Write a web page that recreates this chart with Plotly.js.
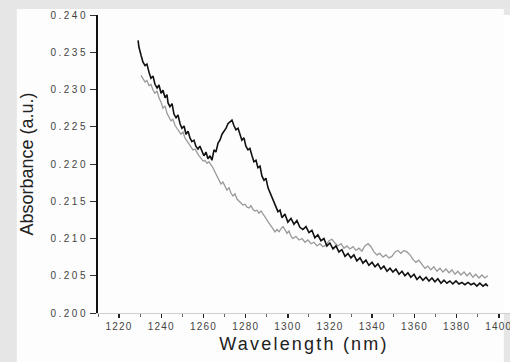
<!DOCTYPE html>
<html>
<head>
<meta charset="utf-8">
<script src="https://cdn.plot.ly/plotly-3.0.1.min.js"></script>
<style>
  html, body { margin: 0; padding: 0; background: #e6e6e6; }
  #chart { width: 510px; height: 362px; }
  .ytick text { letter-spacing: 2.5px; }
  .xtick text { letter-spacing: 1.2px; }
  .g-xtitle text { letter-spacing: 2.2px; }
</style>
</head>
<body>
<div id="chart"></div>
<script>
// Absorbance spectra, sample A (dark trace)
const wavelengthA = [
  1229.0, 1229.4, 1230.4, 1231.3, 1232.3, 1233.2, 1234.2, 1235.1, 1236.1, 1237.0,
  1238.0, 1238.9, 1239.9, 1240.8, 1241.8, 1242.7, 1243.2, 1244.1, 1245.1, 1246.0,
  1247.0, 1247.9, 1248.9, 1249.8, 1250.8, 1251.7, 1252.7, 1253.6, 1254.5, 1255.5,
  1256.4, 1257.4, 1258.3, 1259.3, 1260.2, 1261.2, 1262.1, 1263.1, 1264.0, 1265.0,
  1265.9, 1266.9, 1267.8, 1268.8, 1269.7, 1270.7, 1271.6, 1272.6, 1273.5, 1274.5,
  1275.4, 1276.4, 1277.3, 1278.2, 1279.2, 1280.1, 1281.1, 1282.0, 1283.0, 1283.9,
  1284.9, 1285.8, 1286.8, 1287.7, 1288.7, 1289.6, 1290.6, 1291.5, 1292.5, 1293.4,
  1294.4, 1295.3, 1296.3, 1297.2, 1298.6, 1300.0, 1301.5, 1302.9, 1304.3, 1305.7,
  1307.1, 1308.6, 1310.0, 1311.4, 1312.8, 1314.2, 1315.7, 1317.1, 1318.5, 1319.9,
  1321.4, 1322.8, 1324.2, 1325.6, 1327.1, 1328.5, 1329.9, 1331.3, 1332.7, 1334.2,
  1335.6, 1337.0, 1338.4, 1339.9, 1341.3, 1342.7, 1344.1, 1345.5, 1347.0, 1348.4,
  1349.8, 1351.2, 1352.7, 1354.1, 1355.5, 1356.9, 1358.3, 1359.8, 1361.2, 1362.6,
  1364.0, 1365.5, 1366.9, 1368.3, 1369.7, 1371.1, 1372.6, 1374.0, 1375.4, 1376.8,
  1378.2, 1379.7, 1381.1, 1382.5, 1383.9, 1385.4, 1386.8, 1388.2, 1389.6, 1391.0,
  1392.5, 1393.9, 1394.8
];
const absorbanceA = [
  0.2366, 0.2357, 0.2346, 0.2337, 0.2332, 0.2334, 0.2323, 0.2315, 0.2318, 0.2307,
  0.2302, 0.2306, 0.2295, 0.2299, 0.2289, 0.2293, 0.2282, 0.2277, 0.2281, 0.2267,
  0.2262, 0.2266, 0.2254, 0.2248, 0.2251, 0.2240, 0.2244, 0.2235, 0.2230, 0.2232,
  0.2224, 0.2220, 0.2224, 0.2216, 0.2211, 0.2216, 0.2207, 0.2211, 0.2205, 0.2219,
  0.2216, 0.2228, 0.2232, 0.2240, 0.2244, 0.2248, 0.2254, 0.2256, 0.2259, 0.2251,
  0.2246, 0.2248, 0.2238, 0.2232, 0.2235, 0.2224, 0.2219, 0.2221, 0.2211, 0.2203,
  0.2205, 0.2195, 0.2197, 0.2184, 0.2178, 0.2181, 0.2168, 0.2162, 0.2157, 0.2149,
  0.2144, 0.2136, 0.2138, 0.2128, 0.2133, 0.2122, 0.2127, 0.2119, 0.2124, 0.2115,
  0.2112, 0.2116, 0.2108, 0.2111, 0.2101, 0.2105, 0.2097, 0.2100, 0.2090, 0.2094,
  0.2086, 0.2090, 0.2082, 0.2085, 0.2076, 0.2080, 0.2074, 0.2078, 0.2070, 0.2074,
  0.2067, 0.2071, 0.2064, 0.2068, 0.2062, 0.2066, 0.2059, 0.2063, 0.2056, 0.2060,
  0.2055, 0.2059, 0.2052, 0.2056, 0.2050, 0.2054, 0.2048, 0.2052, 0.2045, 0.2049,
  0.2044, 0.2048, 0.2043, 0.2047, 0.2042, 0.2046, 0.2040, 0.2044, 0.2040, 0.2043,
  0.2039, 0.2043, 0.2039, 0.2041, 0.2038, 0.2041, 0.2038, 0.2040, 0.2036, 0.2040,
  0.2036, 0.2039, 0.2036
];

// Absorbance spectra, sample B (grey trace)
const wavelengthB = [
  1230.4, 1231.3, 1232.3, 1233.2, 1234.2, 1235.1, 1236.1, 1237.0, 1238.0, 1238.9,
  1239.9, 1240.8, 1241.8, 1242.7, 1243.6, 1244.6, 1245.5, 1246.5, 1247.4, 1248.4,
  1249.3, 1250.3, 1251.2, 1252.2, 1253.1, 1254.1, 1255.0, 1256.0, 1256.9, 1257.9,
  1258.8, 1259.8, 1260.7, 1261.7, 1262.6, 1263.6, 1264.5, 1265.5, 1266.4, 1267.3,
  1268.3, 1269.2, 1270.2, 1271.1, 1272.1, 1273.0, 1274.0, 1274.9, 1275.9, 1276.8,
  1277.8, 1278.7, 1279.7, 1280.6, 1281.6, 1282.5, 1283.5, 1284.4, 1285.4, 1286.3,
  1287.3, 1288.2, 1289.1, 1290.1, 1291.0, 1292.0, 1292.9, 1293.9, 1294.8, 1295.8,
  1296.7, 1297.7, 1298.6, 1299.6, 1300.5, 1301.5, 1302.4, 1303.8, 1305.3, 1306.7,
  1308.1, 1309.5, 1311.0, 1312.4, 1313.8, 1315.2, 1316.6, 1318.1, 1319.5, 1320.9,
  1322.3, 1323.7, 1325.2, 1326.6, 1328.0, 1329.4, 1330.9, 1332.3, 1333.7, 1335.1,
  1336.5, 1338.0, 1339.4, 1340.8, 1342.2, 1343.6, 1345.1, 1346.5, 1347.9, 1349.3,
  1350.8, 1352.2, 1353.6, 1355.0, 1356.4, 1357.9, 1359.3, 1360.7, 1362.1, 1363.6,
  1365.0, 1366.4, 1367.8, 1369.2, 1370.7, 1372.1, 1373.5, 1374.9, 1376.4, 1377.8,
  1379.2, 1380.6, 1382.0, 1383.5, 1384.9, 1386.3, 1387.7, 1389.1, 1390.6, 1392.0,
  1393.4, 1394.8
];
const absorbanceB = [
  0.2319, 0.2314, 0.2310, 0.2312, 0.2305, 0.2307, 0.2299, 0.2295, 0.2298, 0.2289,
  0.2283, 0.2275, 0.2278, 0.2268, 0.2263, 0.2258, 0.2260, 0.2252, 0.2248, 0.2244,
  0.2240, 0.2243, 0.2235, 0.2231, 0.2227, 0.2223, 0.2219, 0.2220, 0.2215, 0.2211,
  0.2208, 0.2204, 0.2205, 0.2201, 0.2203, 0.2199, 0.2195, 0.2189, 0.2184, 0.2178,
  0.2173, 0.2176, 0.2169, 0.2165, 0.2168, 0.2161, 0.2157, 0.2160, 0.2153, 0.2150,
  0.2148, 0.2145, 0.2146, 0.2142, 0.2141, 0.2144, 0.2139, 0.2137, 0.2138, 0.2134,
  0.2137, 0.2133, 0.2128, 0.2124, 0.2121, 0.2117, 0.2113, 0.2109, 0.2112, 0.2109,
  0.2113, 0.2116, 0.2112, 0.2107, 0.2110, 0.2103, 0.2100, 0.2103, 0.2098, 0.2100,
  0.2095, 0.2098, 0.2093, 0.2095, 0.2090, 0.2093, 0.2089, 0.2091, 0.2097, 0.2099,
  0.2094, 0.2090, 0.2093, 0.2087, 0.2090, 0.2086, 0.2089, 0.2084, 0.2087, 0.2083,
  0.2090, 0.2093, 0.2089, 0.2082, 0.2078, 0.2080, 0.2075, 0.2078, 0.2074, 0.2076,
  0.2082, 0.2084, 0.2080, 0.2084, 0.2082, 0.2078, 0.2072, 0.2068, 0.2071, 0.2066,
  0.2060, 0.2063, 0.2058, 0.2062, 0.2056, 0.2060, 0.2055, 0.2059, 0.2054, 0.2058,
  0.2052, 0.2056, 0.2051, 0.2055, 0.2050, 0.2054, 0.2048, 0.2052, 0.2047, 0.2051,
  0.2047, 0.2050
];

const xTickValues = [1220, 1240, 1260, 1280, 1300, 1320, 1340, 1360, 1380, 1400];
const yTickValues = [0.200, 0.205, 0.210, 0.215, 0.220, 0.225, 0.230, 0.235, 0.240];
const xTitle = 'Wavelength (nm)';
const yTitle = 'Absorbance (a.u.)';

const FONT = '"Liberation Sans", Arial, sans-serif';

const traces = [
  {
    x: wavelengthB, y: absorbanceB, type: 'scatter', mode: 'lines',
    line: { color: '#9a9a9a', width: 1.3 }, hoverinfo: 'skip'
  },
  {
    x: wavelengthA, y: absorbanceA, type: 'scatter', mode: 'lines',
    line: { color: '#111111', width: 1.6 }, hoverinfo: 'skip'
  }
];

const layout = {
  width: 510, height: 362,
  margin: { l: 98, r: 0, t: 15, b: 49 },
  paper_bgcolor: '#e6e6e6',
  plot_bgcolor: '#ffffff',
  showlegend: false,
  font: { family: FONT, color: '#333' },
  // white sheet behind the figure
  shapes: [{
    type: 'rect', xref: 'paper', yref: 'paper', layer: 'below',
    x0: -0.197, x1: 0.985, y0: -0.17, y1: 1.02,
    fillcolor: '#fdfdfd', line: { width: 0 }
  }],
  xaxis: {
    range: [1210, 1405.3],
    tickmode: 'array', tickvals: xTickValues, ticktext: xTickValues.map(String),
    ticklabeloverflow: 'allow',
    ticks: 'outside', ticklen: 4, tickwidth: 1.5, tickcolor: '#222',
    minor: { dtick: 10, tick0: 1210, ticks: 'outside', ticklen: 3, tickcolor: '#666', tickwidth: 1 },
    showline: true, linecolor: '#cfcfcf', linewidth: 1,
    showgrid: false, zeroline: false,
    tickfont: { size: 10, color: '#444', family: FONT },
    title: { text: xTitle, font: { size: 18, color: '#222', family: FONT }, standoff: 6 }
  },
  yaxis: {
    range: [0.200, 0.240],
    tickmode: 'array', tickvals: yTickValues, ticktext: yTickValues.map(v => v.toFixed(3)),
    ticks: 'outside', ticklen: 6, tickwidth: 1, tickcolor: '#333',
    showline: true, linecolor: '#111', linewidth: 2,
    showgrid: false, zeroline: false,
    tickfont: { size: 10, color: '#444', family: FONT },
    title: { text: yTitle, font: { size: 18, color: '#222', family: FONT }, standoff: 12 }
  }
};

Plotly.newPlot('chart', traces, layout, { staticPlot: true, displayModeBar: false });
</script>
</body>
</html>
